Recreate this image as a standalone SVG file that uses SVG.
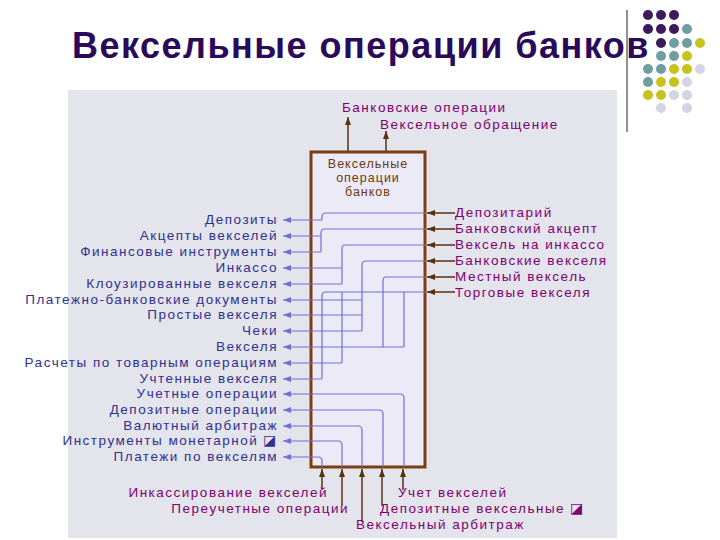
<svg xmlns="http://www.w3.org/2000/svg" width="720" height="540" viewBox="0 0 720 540">
<style>
.lt{font-family:"Liberation Sans",Arial,sans-serif;font-size:13.5px;letter-spacing:1.5px;fill:#303090;text-anchor:end}
.rt{font-family:"Liberation Sans",Arial,sans-serif;font-size:13.5px;letter-spacing:1.5px;fill:#800070}
.bl{fill:none;stroke:#7070d8;stroke-width:1.2}
.br{fill:none;stroke:#5a3010;stroke-width:1.5}
</style>
<defs>
<marker id="ab" markerWidth="8" markerHeight="6" refX="8" refY="3" orient="auto" markerUnits="userSpaceOnUse"><path d="M0,0 L8,3 L0,6 z" fill="#7070d8"/></marker>
<marker id="am" markerWidth="8" markerHeight="6" refX="8" refY="3" orient="auto" markerUnits="userSpaceOnUse"><path d="M0,0 L8,3 L0,6 z" fill="#5a3010"/></marker>
</defs>
<rect width="720" height="540" fill="#ffffff"/>
<rect x="68" y="90" width="549" height="448" fill="#e4e4ec"/>
<g id="dots">
<g fill="#3c1a5e"><circle cx="648" cy="15" r="5"/><circle cx="661" cy="15" r="5"/><circle cx="674" cy="15" r="5"/><circle cx="648" cy="29" r="5"/><circle cx="661" cy="29" r="5"/><circle cx="674" cy="29" r="5"/><circle cx="661" cy="43" r="5"/></g>
<g fill="#6f9ea0"><circle cx="687" cy="29" r="5"/><circle cx="674" cy="43" r="5"/><circle cx="687" cy="43" r="5"/><circle cx="661" cy="56" r="5"/><circle cx="674" cy="56" r="5"/><circle cx="648" cy="69" r="5"/><circle cx="661" cy="69" r="5"/><circle cx="648" cy="82" r="5"/></g>
<g fill="#c8c21e"><circle cx="700" cy="43" r="5"/><circle cx="687" cy="56" r="5"/><circle cx="674" cy="69" r="5"/><circle cx="687" cy="69" r="5"/><circle cx="661" cy="82" r="5"/><circle cx="674" cy="82" r="5"/><circle cx="648" cy="95" r="5"/><circle cx="661" cy="95" r="5"/></g>
<g fill="#d4d4e2"><circle cx="700" cy="69" r="5"/><circle cx="687" cy="82" r="5"/><circle cx="674" cy="95" r="5"/><circle cx="687" cy="95" r="5"/><circle cx="661" cy="108" r="5"/><circle cx="687" cy="108" r="5"/></g>
</g>
<text x="72" y="58" font-family="Liberation Sans,Arial,sans-serif" font-size="36" letter-spacing="1.5" font-weight="bold" fill="#2a0a5a">Вексельные операции банков</text>
<line x1="627" y1="10" x2="627" y2="132" stroke="#222" stroke-width="1"/>
<g id="box">
<rect x="311" y="152" width="114" height="315" fill="#eceaf6" stroke="#7a3e10" stroke-width="3"/>
<text font-family="Liberation Sans,Arial,sans-serif" font-size="12.5" letter-spacing="1" fill="#6a3a10" text-anchor="middle"><tspan x="368" y="168">Вексельные</tspan><tspan x="368" y="182">операции</tspan><tspan x="368" y="196">банков</tspan></text>
</g>
<g id="connectors">
<path class="bl" d="M426,213 H326 Q322,213 322,217 V220 M426,229 H325 Q321,229 321,233 V252"/>
<path class="bl" d="M426,245 H345 Q342,245 342,249 V284 M426,261 H366 Q362,261 362,265 V331 M426,277 H386 Q383,277 383,281 V347 M426,292 H326 Q322,292 322,296 V379 M342,292 V363 M404,292 V347"/>
<path class="bl" d="M404,467 V398 Q404,394 400,394 M383,467 V414 Q383,410 379,410 M362,467 V430 Q362,426 358,426 M342,467 V445 Q342,441 338,441 M322,467 V461 Q322,457 318,457"/>
<g class="bl" marker-end="url(#ab)">
<path d="M322,220 H283"/><path d="M321,236 H283"/><path d="M321,252 H283"/><path d="M342,268 H283"/><path d="M342,284 H283"/><path d="M362,300 H283"/><path d="M362,315 H283"/><path d="M362,331 H283"/><path d="M404,347 H283"/><path d="M342,363 H283"/><path d="M322,379 H283"/><path d="M400,394 H283"/><path d="M379,410 H283"/><path d="M358,426 H283"/><path d="M338,441 H283"/><path d="M318,457 H283"/>
</g>
<g class="br" marker-end="url(#am)">
<path d="M455,213 H427"/><path d="M455,229 H427"/><path d="M455,245 H427"/><path d="M455,261 H427"/><path d="M455,277 H427"/><path d="M455,292 H427"/>
<path d="M348,151 V117"/><path d="M386,151 V131"/>
<path d="M322,490 V469"/><path d="M342,506 V469"/><path d="M362,522 V469"/><path d="M382,506 V469"/><path d="M403,490 V469"/>
</g>
</g>
<g id="labels-left">
<text class="lt" x="278" y="224">Депозиты</text>
<text class="lt" x="278" y="240">Акцепты векселей</text>
<text class="lt" x="278" y="256">Финансовые инструменты</text>
<text class="lt" x="278" y="272">Инкассо</text>
<text class="lt" x="278" y="288">Клоузированные векселя</text>
<text class="lt" x="278" y="304">Платежно-банковские документы</text>
<text class="lt" x="278" y="319">Простые векселя</text>
<text class="lt" x="278" y="335">Чеки</text>
<text class="lt" x="278" y="351">Векселя</text>
<text class="lt" x="278" y="367">Расчеты по товарным операциям</text>
<text class="lt" x="278" y="383">Учтенные векселя</text>
<text class="lt" x="278" y="398">Учетные операции</text>
<text class="lt" x="278" y="414">Депозитные операции</text>
<text class="lt" x="278" y="430">Валютный арбитраж</text>
<text class="lt" x="278" y="445">Инструменты монетарной ◪</text>
<text class="lt" x="278" y="461">Платежи по векселям</text>
</g>
<g id="labels-right">
<text class="rt" x="455" y="217">Депозитарий</text>
<text class="rt" x="455" y="233">Банковский акцепт</text>
<text class="rt" x="455" y="249">Вексель на инкассо</text>
<text class="rt" x="455" y="265">Банковские векселя</text>
<text class="rt" x="455" y="281">Местный вексель</text>
<text class="rt" x="455" y="297">Торговые векселя</text>
</g>
<g id="labels-top">
<text class="rt" x="342" y="112">Банковские операции</text>
<text class="rt" x="380" y="129">Вексельное обращение</text>
</g>
<g id="labels-bottom">
<text class="rt" x="328" y="497" text-anchor="end">Инкассирование векселей</text>
<text class="rt" x="349" y="513" text-anchor="end">Переучетные операции</text>
<text class="rt" x="356" y="529">Вексельный арбитраж</text>
<text class="rt" x="398" y="497">Учет векселей</text>
<text class="rt" x="380" y="513">Депозитные вексельные ◪</text>
</g>
</svg>
